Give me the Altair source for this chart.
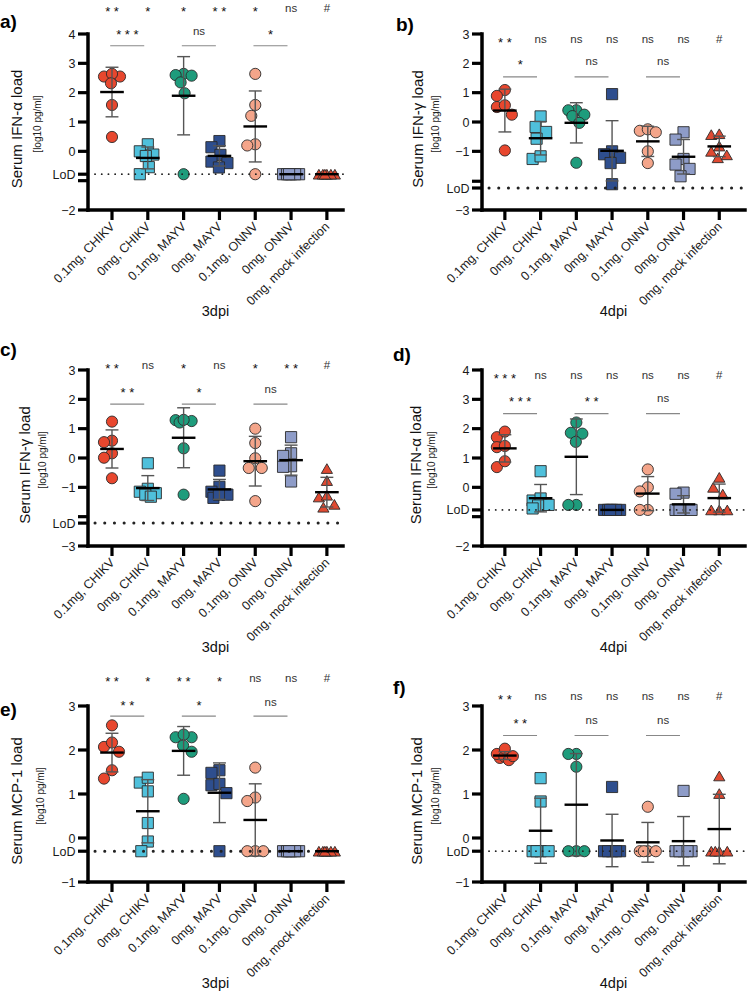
import altair as alt
import pandas as pd
import numpy as np

FONT = "Liberation Sans"

CATEGORIES = ["0.1mg, CHIKV", "0mg, CHIKV", "0.1mg, MAYV", "0mg, MAYV",
              "0.1mg, ONNV", "0mg, ONNV", "0mg, mock infection"]
COLORS = ["#E8472E", "#4FC0DB", "#1E9C7C", "#2E4E8E", "#F4A58A", "#8E9CC8", "#E04A32"]
SHAPES = ["circle", "square", "circle", "square", "circle", "square", "triangle-up"]

N = None  # value below the limit of detection (plotted at LoD)

# ---- panel a) IFN-alpha 3dpi
A_VALUES = [
    [2.55, 2.55, 2.64, 2.32, 1.58, 0.49],
    [0.24, 0.0, -0.11, -0.16, -0.54, N],
    [2.64, 2.6, 2.58, 2.35, 1.98, N],
    [0.35, 0.14, -0.12, -0.35, -0.4, -0.55],
    [2.64, 1.58, 1.21, 0.24, 0.2, N],
    [N, N, N, N, N, N],
    [N, N, N, N, N, N],
]
A_TOP = ["* *", "*", "*", "* *", "*", "ns", "#"]
A_COMP = ["* * *", "ns", "*"]

# ---- panel b) IFN-gamma 4dpi
B_VALUES = [
    [1.09, 0.89, 0.51, 0.57, 0.25, -0.97],
    [0.19, -0.17, -0.34, -0.57, -1.26, -1.17],
    [0.4, 0.4, 0.2, 0.25, -0.03, -1.39],
    [0.95, -1.0, -1.22, -1.1, -1.4, -2.12],
    [-0.3, -0.25, -0.35, -1.0, -1.4],
    [-0.35, -0.6, -1.26, -1.45, -1.6, -1.85],
    [-0.43, -0.4, -0.82, -1.22, -1.12, -1.0],
]
B_TOP = ["* *", "ns", "ns", "ns", "ns", "ns", "#"]
B_COMP = ["*", "ns", "ns"]

# ---- panel c) IFN-gamma 3dpi
C_VALUES = [
    [1.24, 0.59, 0.54, 0.16, 0.01, -0.69],
    [-0.18, -1.05, -1.15, -1.2, -1.25, -1.32],
    [1.29, 1.21, 1.26, 1.3, 0.33, -1.25],
    [-0.43, -0.98, -1.15, -1.36, -1.25, -1.25],
    [1.0, 0.51, -0.34, -0.34, -0.01, -1.47],
    [0.71, 0.16, 0.07, -0.28, -0.3, -0.8],
    [-0.36, -0.77, -1.33, -1.27, -1.68, -1.58],
]
C_TOP = ["* *", "ns", "*", "ns", "*", "* *", "#"]
C_COMP = ["* *", "*", "ns"]

# ---- panel d) IFN-alpha 4dpi
D_VALUES = [
    [1.71, 1.9, 1.37, 1.41, 0.69, 0.89],
    [0.55, -0.45, -0.38, -0.6, -0.62, -0.72],
    [2.21, 1.86, 1.83, 1.55, -0.6, -0.6],
    [N, N, N, N, N, N],
    [0.61, 0.0, -0.14, N, N],
    [-0.18, -0.22, N, N, N, N],
    [0.34, 0.0, -0.23, N, N, N],
]
D_TOP = ["* * *", "ns", "ns", "ns", "ns", "ns", "#"]
D_COMP = ["* * *", "* *", "ns"]

# ---- panel e) MCP-1 3dpi
E_VALUES = [
    [2.56, 2.07, 2.17, 1.96, 1.54, 1.35],
    [1.26, 1.37, 1.06, 0.34, -0.08, N],
    [2.29, 2.29, 2.35, 2.1, 1.96, 0.89],
    [1.54, 1.48, 1.2, 1.23, 1.02, N],
    [1.6, 0.92, 0.84, N, N, N],
    [N, N, N, N, N, N],
    [N, N, N, N, N, N],
]
E_TOP = ["* *", "*", "* *", "*", "ns", "ns", "#"]
E_COMP = ["* *", "*", "ns"]

# ---- panel f) MCP-1 4dpi
F_VALUES = [
    [1.82, 1.91, 1.85, 2.03, 1.77, 1.86],
    [1.36, 0.83, N, N, N, N],
    [1.91, 1.91, 1.62, N, N, N],
    [1.16, N, N, N, N, N],
    [0.71, N, N, N, N],
    [1.07, N, N, N, N, N],
    [1.41, 1.01, N, N, N, N],
]
F_TOP = ["* *", "ns", "ns", "ns", "ns", "ns", "#"]
F_COMP = ["* *", "ns", "ns"]

H = 176
TICK = 10
LEFT = dict(W=255, xdom=[-0.67, 6.45])
RIGHT = dict(W=263, xdom=[-0.64, 6.72])

PANELS = [
    dict(letter="a)", values=A_VALUES, top=A_TOP, comp=A_COMP, lod=-0.78, brk=-1.0,
         ydom=[-2, 4], ticks=[-2, 0, 1, 2, 3, 4], ann=(4.85, 4.08, 3.6), big_dots=False,
         ytitle="Serum IFN-\u03b1 load", xtitle="3dpi", lpos=(-88, -12), tpos=(-71, -50), **LEFT),
    dict(letter="b)", values=B_VALUES, top=B_TOP, comp=B_COMP, lod=-2.25, brk=-2.02,
         ydom=[-3, 3], ticks=[-3, -1, 0, 1, 2, 3], ann=(2.8, 2.06, 1.54), big_dots=True,
         ytitle="Serum IFN-\u03b3 load", xtitle="4dpi", lpos=(-86, -9), tpos=(-64, -46), **RIGHT),
    dict(letter="c)", values=C_VALUES, top=C_TOP, comp=C_COMP, lod=-2.22, brk=-2.0,
         ydom=[-3, 3], ticks=[-3, -1, 0, 1, 2, 3], ann=(3.12, 2.32, 1.84), big_dots=True,
         ytitle="Serum IFN-\u03b3 load", xtitle="3dpi", lpos=(-88, -20), tpos=(-63, -45), **LEFT),
    dict(letter="d)", values=D_VALUES, top=D_TOP, comp=D_COMP, lod=-0.77, brk=-1.0,
         ydom=[-2, 4], ticks=[-2, 0, 1, 2, 3, 4], ann=(3.8, 3.0, 2.51), big_dots=False,
         ytitle="Serum IFN-\u03b1 load", xtitle="4dpi", lpos=(-89, -15), tpos=(-66, -50), **RIGHT),
    dict(letter="e)", values=E_VALUES, top=E_TOP, comp=E_COMP, lod=-0.3, brk=None,
         ydom=[-1, 3], ticks=[-1, 0, 1, 2, 3], ann=(3.61, 3.06, 2.77), big_dots=True,
         ytitle="Serum MCP-1 load", xtitle="3dpi", lpos=(-88, 4), tpos=(-71, -47), **LEFT),
    dict(letter="f)", values=F_VALUES, top=F_TOP, comp=F_COMP, lod=-0.3, brk=None,
         ydom=[-1, 3], ticks=[-1, 0, 1, 2, 3], ann=(3.21, 2.66, 2.33), big_dots=False,
         ytitle="Serum MCP-1 load", xtitle="4dpi", lpos=(-89, -18), tpos=(-65, -46), **RIGHT),
]


def swarm(vals, ypu, xpu, D=11.5, M=8.0):
    """Beeswarm x offsets (in data units) computed from the values."""
    vals = np.asarray(vals, float)
    order = np.argsort(-vals, kind="stable")
    grid = np.linspace(-M, M, 33)
    grid = grid[np.argsort(np.abs(grid), kind="stable")]
    placed = []
    off = np.zeros(len(vals))
    for i in order:
        y = vals[i] * ypu
        best, bestcost = 0.0, None
        for gx in grid:
            md = min((np.hypot(gx - px, y - py) for px, py in placed), default=1e9)
            cost = abs(gx) if md >= D else 1000 - md
            if bestcost is None or cost < bestcost - 1e-9:
                best, bestcost = gx, cost
        placed.append((best, y))
        off[i] = best / xpu
    return off


def make_panel(p):
    W, xdom, ydom, lod, brk = p["W"], p["xdom"], p["ydom"], p["lod"], p["brk"]
    xs = alt.Scale(domain=xdom, nice=False, zero=False)
    ys = alt.Scale(domain=ydom, nice=False, zero=False)
    ypu = H / (ydom[1] - ydom[0])
    xpu = W / (xdom[1] - xdom[0])

    rows = []
    for gi, vals in enumerate(p["values"]):
        v = [lod if x is None else x for x in vals]
        offs = swarm(v, ypu, xpu)
        for val, o in zip(v, offs):
            rows.append({"g": CATEGORIES[gi], "idx": gi, "v": val, "xp": gi + o})
    df = pd.DataFrame(rows)

    cat_js = "[" + ",".join("'%s'" % c for c in CATEGORIES) + "]"
    common = dict(labelColor="#1a1a1a", labelFont=FONT, grid=False, title=None,
                  labelOverlap=False, domain=False, ticks=False)
    xaxis = alt.Axis(values=list(range(7)), labelExpr=cat_js + "[datum.value]",
                     labelAngle=-45, labelAlign="right", labelBaseline="middle",
                     labelFontSize=12.5, labelPadding=TICK + 4, labelFlush=False, **common)
    yvals = list(p["ticks"]) + [lod] + ([brk] if brk is not None else [])
    expr = "format(datum.value, 'd')"
    if brk is not None:
        expr = "abs(datum.value - (%s)) < 0.001 ? '' : %s" % (brk, expr)
    expr = "abs(datum.value - (%s)) < 0.001 ? 'LoD' : (%s)" % (lod, expr)
    yaxis = alt.Axis(values=yvals, labelExpr=expr, labelFontSize=12.5,
                     labelPadding=TICK + 3, labelFlush=False, **common)

    def X(f, **kw):
        return alt.X(f, type="quantitative", scale=xs, axis=xaxis, **kw)

    def Y(f, **kw):
        return alt.Y(f, type="quantitative", scale=ys, axis=yaxis, **kw)

    one = pd.DataFrame({"a": [0]})
    # bold Prism-style axis lines and ticks
    yline = alt.Chart(one).mark_rule(color="black", strokeWidth=3.5, strokeCap="square").encode(
        x=alt.value(0), y=alt.value(0), y2=alt.value(H))
    xline = alt.Chart(one).mark_rule(color="black", strokeWidth=3.5, strokeCap="square").encode(
        x=alt.value(0), x2=alt.value(W), y=alt.value(H))
    yticks = alt.Chart(pd.DataFrame({"t": yvals})).mark_rule(
        color="black", strokeWidth=3.2).encode(
        y=Y("t"), x=alt.value(-TICK), x2=alt.value(0))
    xticks = alt.Chart(pd.DataFrame({"t": list(range(7))})).mark_rule(
        color="black", strokeWidth=3.2).encode(
        x=X("t"), y=alt.value(H), y2=alt.value(H + TICK))

    if p["big_dots"]:
        dot = dict(strokeWidth=3, strokeDash=[0.1, 9.6])
    else:
        dot = dict(strokeWidth=1.8, strokeDash=[0.1, 6.6])
    lodline = alt.Chart(pd.DataFrame({"lod": [lod]})).mark_rule(
        color="#222", strokeCap="round", **dot).encode(
        y=Y("lod"), x=alt.value(7), x2=alt.value(W))

    points = alt.Chart(df).mark_point(filled=True, opacity=1, size=125, stroke="#2a2a2a",
                                      strokeWidth=0.9).encode(
        x=X("xp"),
        y=Y("v"),
        color=alt.Color("g:N", scale=alt.Scale(domain=CATEGORIES, range=COLORS), legend=None),
        shape=alt.Shape("g:N", scale=alt.Scale(domain=CATEGORIES, range=SHAPES), legend=None),
    )

    stats = alt.Chart(df).transform_aggregate(
        m="mean(v)", sd="stdev(v)", groupby=["idx"]
    ).transform_calculate(
        lo="datum.m - datum.sd", hi="datum.m + datum.sd",
        ml="datum.idx - 0.33", mr="datum.idx + 0.33",
        cl="datum.idx - 0.18", cr="datum.idx + 0.18",
    )
    sdcol = "#555"
    vline = stats.mark_rule(color=sdcol, strokeWidth=1.4).encode(
        x=X("idx"), y=Y("lo"), y2="hi:Q")
    cap_lo = stats.mark_rule(color=sdcol, strokeWidth=1.4).encode(
        x=X("cl"), x2="cr:Q", y=Y("lo"))
    cap_hi = stats.mark_rule(color=sdcol, strokeWidth=1.4).encode(
        x=X("cl"), x2="cr:Q", y=Y("hi"))
    mean = stats.mark_rule(color="black", strokeWidth=2.4).encode(
        x=X("ml"), x2="mr:Q", y=Y("m"))

    top_y, comp_y, line_y = p["ann"]
    ann = [{"x": i, "y": top_y, "t": t} for i, t in enumerate(p["top"])]
    ann += [{"x": 2 * k + 0.43, "y": comp_y, "t": t} for k, t in enumerate(p["comp"])]
    ann = pd.DataFrame(ann)
    stars = ann[ann["t"].str.contains(r"\*")]
    other = ann[~ann["t"].str.contains(r"\*")]
    star_txt = alt.Chart(stars).mark_text(fontSize=13, color="#111", dy=3, font=FONT).encode(
        x=X("x"), y=Y("y"), text="t:N")
    other_txt = alt.Chart(other).mark_text(fontSize=11.5, color="#333", font=FONT).encode(
        x=X("x"), y=Y("y"), text="t:N")
    comp_lines = pd.DataFrame({"x1": [2 * k - 0.05 for k in range(3)],
                               "x2": [2 * k + 0.9 for k in range(3)],
                               "y": [line_y] * 3})
    clines = alt.Chart(comp_lines).mark_rule(color="#888", strokeWidth=1.2).encode(
        x=X("x1"), x2="x2:Q", y=Y("y"))

    letter = alt.Chart(one).mark_text(text=p["letter"], fontSize=19, fontWeight="bold",
                                      align="left", baseline="middle", font=FONT).encode(
        x=alt.value(p["lpos"][0]), y=alt.value(p["lpos"][1]))
    ytitle = alt.Chart(one).mark_text(text=p["ytitle"], fontSize=15, angle=270,
                                      baseline="middle", align="center", font=FONT,
                                      color="#111").encode(
        x=alt.value(p["tpos"][0]), y=alt.value(95))
    ysub = alt.Chart(one).mark_text(text="[log10 pg/ml]", fontSize=10, angle=270,
                                    baseline="middle", align="center", font=FONT,
                                    color="#222").encode(
        x=alt.value(p["tpos"][1]), y=alt.value(90))
    xtitle = alt.Chart(one).mark_text(text=p["xtitle"], fontSize=14.5, baseline="middle",
                                      align="center", font=FONT, color="#111").encode(
        x=alt.value(W / 2), y=alt.value(H + 102))

    return alt.layer(points, lodline, vline, cap_lo, cap_hi, mean, clines, star_txt,
                     other_txt, yticks, xticks, yline, xline, letter, ytitle, ysub,
                     xtitle).properties(width=W, height=H)


chart = alt.concat(*[make_panel(p) for p in PANELS], columns=2,
                   spacing={"row": 160, "column": 139}, bounds="flush").properties(
    padding={"left": 0, "top": 3, "right": 0, "bottom": 0}
).configure(font=FONT).configure_view(stroke=None)

chart.save("out.html", embed_options={"renderer": "svg", "actions": False})
